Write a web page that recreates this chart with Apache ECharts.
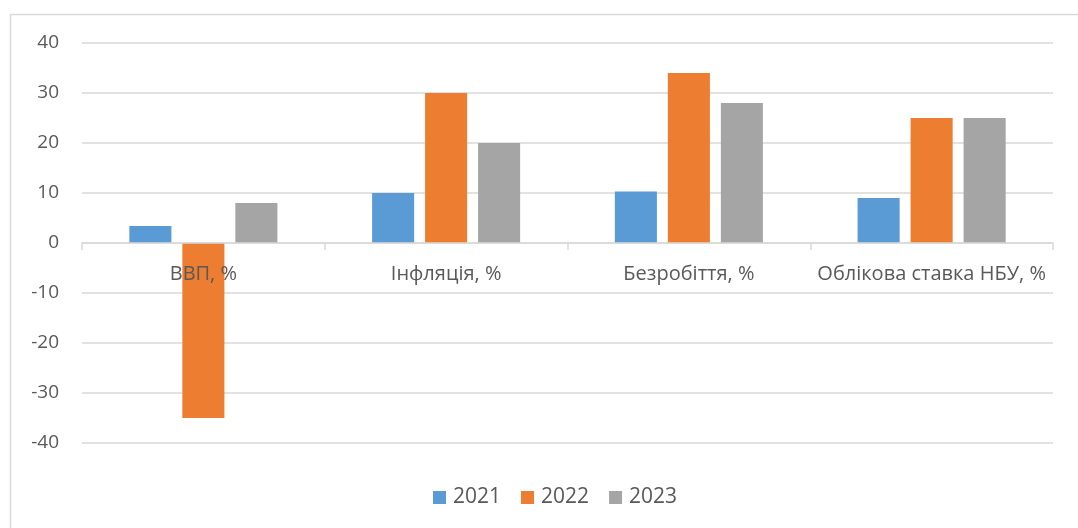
<!DOCTYPE html>
<html>
<head>
<meta charset="utf-8">
<script src="https://cdn.jsdelivr.net/npm/echarts@6/dist/echarts.min.js"></script>
<style>
    html, body { margin: 0; padding: 0; background: #ffffff; }
    #chart { width: 1078px; height: 528px; }
</style>
</head>
<body>
<div id="chart"></div>
<script>
    // categories and values
    var categories = ['ВВП, %', 'Інфляція, %', 'Безробіття, %', 'Облікова ставка НБУ, %'];
    var years = ['2021', '2022', '2023'];
    var data2021 = [3.4, 10, 10.3, 9];
    var data2022 = [-35, 30, 34, 25];
    var data2023 = [8, 20, 28, 25];
    var yTicks = {min: -40, max: 40, interval: 10};

    var colors = ['#5b9bd5', '#ed7d31', '#a5a5a5'];
    var font = '"Open Sans", "Noto Sans", sans-serif';

    var chart = echarts.init(document.getElementById('chart'));
    chart.setOption({
        animation: false,
        color: colors,
        textStyle: {fontFamily: font},
        graphic: [{
            type: 'rect',
            shape: {x: 10.5, y: 14.5, width: 1200, height: 700},
            style: {fill: 'none', stroke: '#d9d9d9', lineWidth: 1.5},
            silent: true
        }],
        grid: {left: 82, right: 25, top: 43, bottom: 85},
        legend: {
            data: years,
            left: 428,
            top: 482,
            itemWidth: 13,
            itemHeight: 13,
            itemGap: 20,
            icon: 'rect',
            textStyle: {fontSize: 21, color: '#595959', fontFamily: font, padding: [0, 0, 0, 2]}
        },
        xAxis: {
            type: 'category',
            data: categories,
            position: 'bottom',
            // grid is 400px high and symmetric, so zero sits 200px above the bottom
            offset: -200,
            z: 10,
            axisLine: {onZero: false, lineStyle: {color: '#d9d9d9', width: 1.5}},
            axisTick: {show: true, length: 7, lineStyle: {color: '#d9d9d9', width: 1.5}},
            axisLabel: {interval: 0, fontSize: 20, color: '#595959', margin: 21, fontFamily: font}
        },
        yAxis: {
            type: 'value',
            min: yTicks.min,
            max: yTicks.max,
            interval: yTicks.interval,
            axisLine: {show: false},
            axisTick: {show: false},
            axisLabel: {fontSize: 19, color: '#595959', margin: 23, fontFamily: font},
            splitLine: {lineStyle: {color: '#d9d9d9', width: 1.5}}
        },
        series: [
            {name: years[0], type: 'bar', data: data2021, barGap: '26%', barCategoryGap: '39%'},
            {name: years[1], type: 'bar', data: data2022, barGap: '26%', barCategoryGap: '39%'},
            {name: years[2], type: 'bar', data: data2023, barGap: '26%', barCategoryGap: '39%'}
        ]
    });
</script>
</body>
</html>
